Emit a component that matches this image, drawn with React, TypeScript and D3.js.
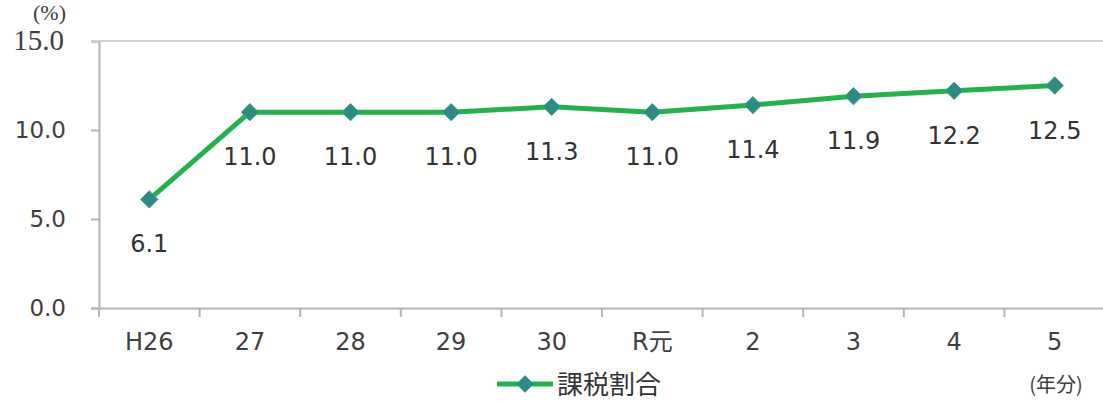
import React, {useEffect, useRef} from 'react';
import * as d3 from 'd3';

const categories = ['H26', '27', '28', '29', '30', 'R元', '2', '3', '4', '5'];
const rates = [6.1, 11.0, 11.0, 11.0, 11.3, 11.0, 11.4, 11.9, 12.2, 12.5];
const yTicks = [0, 5, 10, 15];
const seriesName = '課税割合';

const FONT = '"DejaVu Sans", "Noto Sans CJK JP", sans-serif';
const SERIF = '"Liberation Serif", "DejaVu Serif", serif';

function App() {
  const ref = useRef<SVGSVGElement>(null);

  useEffect(() => {
    const svg = d3.select(ref.current);
    svg.selectAll('*').remove();

    const left = 99, right = 1105, top = 41, bottom = 308;
    const x = d3.scaleBand<string>().domain(categories).range([left, right]);
    const y = d3.scaleLinear().domain([0, 15]).range([bottom, top]);
    const cx = (c: string) => (x(c) as number) + x.bandwidth() / 2;
    const axisColor = '#b4b4b4';

    // y axis
    const yAxis = svg.append('g').attr('transform', `translate(${left},0)`)
      .call(d3.axisLeft(y).tickValues(yTicks).tickSize(8).tickFormat(d => (d as number).toFixed(1)) as any);
    yAxis.select('.domain').attr('stroke', axisColor).attr('stroke-width', 2);
    yAxis.selectAll('.tick line').attr('stroke', axisColor).attr('stroke-width', 2);
    yAxis.selectAll('.tick text')
      .attr('x', -33).attr('fill', '#404040')
      .attr('font-family', FONT).attr('font-size', 23);
    // top label is drawn in a serif face in the original
    yAxis.selectAll<SVGTextElement, number>('.tick text')
      .filter(d => d === 15)
      .attr('font-family', SERIF).attr('font-size', 29).attr('x', -35).attr('dy', '0.28em');

    // top border line
    svg.append('line').attr('x1', left - 8).attr('x2', 1103).attr('y1', top).attr('y2', top)
      .attr('stroke', '#d0d0d0').attr('stroke-width', 2);

    // x axis
    const xAxis = svg.append('g').attr('transform', `translate(0,${bottom})`)
      .call(d3.axisBottom(x).tickSize(0).tickPadding(25) as any);
    xAxis.select('.domain').attr('stroke', axisColor).attr('stroke-width', 2);
    xAxis.selectAll('.tick text').attr('fill', '#404040').attr('font-size', 24).attr('font-family', FONT);
    const bounds = categories.map(c => x(c) as number).concat([right]);
    svg.append('g').selectAll('line').data(bounds).join('line')
      .attr('x1', d => d).attr('x2', d => d).attr('y1', bottom).attr('y2', bottom + 9)
      .attr('stroke', axisColor).attr('stroke-width', 2);

    svg.append('text').attr('x', 33).attr('y', 20).text('(%)')
      .attr('fill', '#404040').attr('font-family', SERIF).attr('font-size', 22);
    svg.append('text').attr('x', 1056).attr('y', 392).attr('text-anchor', 'middle').text('(年分)')
      .attr('fill', '#404040').attr('font-family', '"Noto Sans CJK JP", sans-serif').attr('font-size', 20);

    // line
    const line = d3.line<number>().x((d, i) => cx(categories[i])).y(d => y(d));
    svg.append('path').datum(rates).attr('d', line).attr('fill', 'none')
      .attr('stroke', '#22b14c').attr('stroke-width', 5).attr('stroke-linejoin', 'round');

    const diamond = d3.symbol().type(d3.symbolDiamond2).size(190);
    svg.append('g').selectAll('path').data(rates).join('path')
      .attr('d', diamond as any)
      .attr('transform', (d, i) => `translate(${cx(categories[i])},${y(d)})`)
      .attr('fill', '#2e8b82').attr('stroke', '#3a9f8a').attr('stroke-width', 1);

    svg.append('g').selectAll('text').data(rates).join('text')
      .attr('x', (d, i) => cx(categories[i]))
      .attr('y', d => y(d) + 53)
      .attr('text-anchor', 'middle')
      .attr('fill', '#333')
      .attr('font-family', FONT).attr('font-size', 24)
      .text(d => d.toFixed(1));

    // legend
    const lg = svg.append('g');
    lg.append('line').attr('x1', 497).attr('x2', 553).attr('y1', 384).attr('y2', 384)
      .attr('stroke', '#22b14c').attr('stroke-width', 5);
    lg.append('path').attr('d', diamond as any).attr('transform', 'translate(525,384)')
      .attr('fill', '#2e8b82');
    lg.append('text').attr('x', 557).attr('y', 394).text(seriesName)
      .attr('fill', '#333').attr('font-family', '"Noto Sans CJK JP", sans-serif').attr('font-size', 26);
  }, []);

  return (
    <svg ref={ref} width={1103} height={401}
      style={{position: 'absolute', left: 0, top: 0, background: '#fff'}} />
  );
}

export default App;
